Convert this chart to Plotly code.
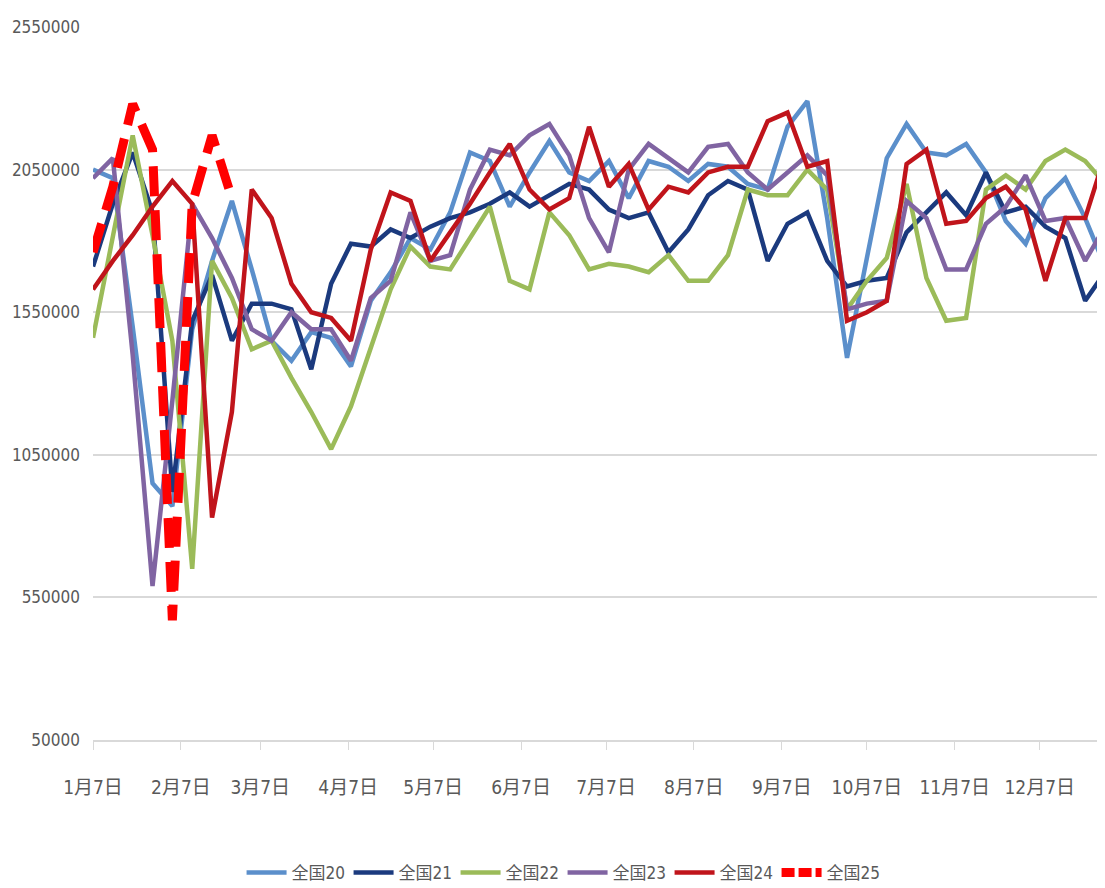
import plotly.graph_objects as go
import pandas as pd

# weekly points, Jan 7 -> Dec 30 (52 weeks)
weeks = pd.date_range("2023-01-07", periods=52, freq="7D")

month_ticks = [f"2023-{m:02d}-07" for m in range(1, 13)]
month_labels = [f"{m}月7日" for m in range(1, 13)]

y_ticks = [50000, 550000, 1050000, 1550000, 2050000, 2550000]

quan20 = [2050000, 2020000, 1500000, 950000, 870000, 1490000, 1730000, 1940000, 1700000, 1450000,
          1380000, 1480000, 1460000, 1360000, 1590000, 1690000, 1810000, 1770000, 1900000, 2110000,
          2080000, 1920000, 2040000, 2150000, 2040000, 2010000, 2080000, 1950000, 2080000, 2060000,
          2010000, 2070000, 2060000, 2000000, 1980000, 2200000, 2290000, 1880000, 1390000, 1740000,
          2090000, 2210000, 2110000, 2100000, 2140000, 2040000, 1870000, 1790000, 1950000, 2020000,
          1880000, 1710000]

quan21 = [1710000, 1930000, 2110000, 1900000, 920000, 1520000, 1680000, 1450000, 1580000, 1580000,
          1560000, 1350000, 1650000, 1790000, 1780000, 1840000, 1810000, 1850000, 1880000, 1900000,
          1930000, 1970000, 1920000, 1960000, 2000000, 1980000, 1910000, 1880000, 1900000, 1760000,
          1840000, 1960000, 2010000, 1980000, 1730000, 1860000, 1900000, 1730000, 1640000, 1660000,
          1670000, 1830000, 1900000, 1970000, 1890000, 2040000, 1900000, 1920000, 1850000, 1810000,
          1590000, 1690000]

quan22 = [1460000, 1810000, 2170000, 1820000, 1450000, 650000, 1730000, 1600000, 1420000, 1450000,
          1320000, 1200000, 1070000, 1220000, 1430000, 1630000, 1780000, 1710000, 1700000, 1810000,
          1920000, 1660000, 1630000, 1900000, 1820000, 1700000, 1720000, 1710000, 1690000, 1750000,
          1660000, 1660000, 1750000, 1980000, 1960000, 1960000, 2050000, 1980000, 1560000, 1660000,
          1740000, 2000000, 1670000, 1520000, 1530000, 1980000, 2030000, 1980000, 2080000, 2120000,
          2080000, 2000000]

quan23 = [2020000, 2090000, 1400000, 590000, 1240000, 1930000, 1810000, 1670000, 1490000, 1450000,
          1550000, 1490000, 1490000, 1380000, 1600000, 1660000, 1900000, 1730000, 1750000, 1980000,
          2120000, 2100000, 2170000, 2210000, 2100000, 1880000, 1760000, 2050000, 2140000, 2090000,
          2040000, 2130000, 2140000, 2040000, 1980000, 2040000, 2100000, 2030000, 1560000, 1580000,
          1590000, 1940000, 1880000, 1700000, 1700000, 1860000, 1920000, 2030000, 1870000, 1880000,
          1730000, 1850000]

quan24 = [1630000, 1730000, 1820000, 1920000, 2010000, 1930000, 830000, 1200000, 1980000, 1880000,
          1650000, 1550000, 1530000, 1450000, 1770000, 1970000, 1940000, 1730000, 1830000, 1930000,
          2040000, 2140000, 1980000, 1910000, 1950000, 2200000, 1990000, 2070000, 1910000, 1990000,
          1970000, 2040000, 2060000, 2060000, 2220000, 2250000, 2060000, 2080000, 1520000, 1550000,
          1590000, 2070000, 2120000, 1860000, 1870000, 1950000, 1990000, 1910000, 1660000, 1880000,
          1880000, 2100000]

quan25 = [1760000, 1990000, 2280000, 2120000, 470000, 1930000, 2170000, 1950000]

FONT = "Liberation Sans Narrow, DejaVu Sans Condensed, Noto Sans CJK SC, sans-serif"
GRID = "#D9D9D9"

series = [
  ("全国20", quan20, "#5B8FCB", "solid", 4.5),
  ("全国21", quan21, "#1B3A7E", "solid", 4.5),
  ("全国22", quan22, "#9BBB59", "solid", 4.5),
  ("全国23", quan23, "#8064A2", "solid", 4.5),
  ("全国24", quan24, "#C0141B", "solid", 4.5),
  ("全国25", quan25, "#FF0000", "30px,14px", 9),
]

fig = go.Figure()
for name, vals, color, dash, width in series:
  is_dashed = dash != "solid"
  fig.add_trace(
    go.Scatter(
      x=weeks[: len(vals)],
      y=vals,
      mode="lines",
      name=name,
      line=dict(color=color, width=width, dash=dash),
      showlegend=not is_dashed,
      legendrank=len(fig.data) + 1,
    )
  )
  if is_dashed:
    # legend swatch with a shorter dash so it shows two blobs like the original
    fig.add_trace(
      go.Scatter(
        x=[None],
        y=[None],
        mode="lines",
        name=name,
        line=dict(color=color, width=width, dash="13px,4px"),
        legendrank=len(fig.data) + 1,
      )
    )

# the page body has an 8px margin, so the figure is sized to fit inside the window
fig.update_layout(
  width=1097,
  height=880,
  paper_bgcolor="white",
  plot_bgcolor="white",
  margin=dict(l=85, r=0, t=19, b=148, autoexpand=False),
  font=dict(family=FONT, size=19, color="#595959"),
  showlegend=True,
  legend=dict(
    orientation="h",
    x=0.464,
    xanchor="center",
    y=-0.1865,
    yanchor="middle",
    font=dict(family=FONT, size=17, color="#595959"),
    entrywidth=52,
    entrywidthmode="pixels",
    itemwidth=40,
    traceorder="normal",
  ),
  xaxis=dict(
    type="date",
    range=[weeks[0], weeks[-1]],
    tickvals=month_ticks,
    ticktext=month_labels,
    ticks="outside",
    ticklen=8,
    tickcolor=GRID,
    tickwidth=1,
    showline=True,
    linecolor=GRID,
    linewidth=2,
    showgrid=False,
    zeroline=False,
    automargin=False,
    ticklabelstandoff=21,
    tickfont=dict(size=19),
  ),
  yaxis=dict(
    range=[50000, 2550000],
    tickvals=y_ticks,
    ticktext=[str(v) for v in y_ticks],
    showgrid=True,
    gridcolor=GRID,
    gridwidth=2,
    zeroline=False,
    showline=False,
    ticks="",
    automargin=False,
    ticklabelstandoff=12,
    tickfont=dict(size=17),
  ),
)

fig.write_html("out.html")
